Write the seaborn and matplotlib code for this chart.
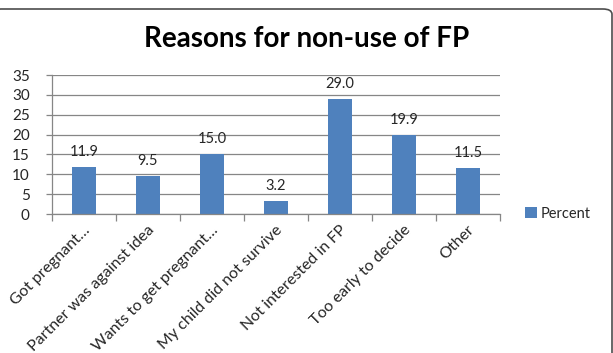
import matplotlib
matplotlib.use("Agg")
import matplotlib.pyplot as plt
import matplotlib.transforms as mtransforms
from matplotlib.patches import FancyBboxPatch, Patch
import seaborn as sns
import pandas as pd

# Reasons for non-use of family planning (percent of respondents)
reasons = [
    "Got pregnant\u2026",
    "Partner was against idea",
    "Wants to get pregnant\u2026",
    "My child did not survive",
    "Not interested in FP",
    "Too early to decide",
    "Other",
]
percent = [11.9, 9.5, 15.0, 3.2, 29.0, 19.9, 11.5]
y_ticks = [0, 5, 10, 15, 20, 25, 30, 35]

BAR = "#4F81BD"
GRID = "#868686"
TEXT = "#262626"

sns.set_theme(style="white")
plt.rcParams["font.family"] = ["Lato", "DejaVu Sans"]

W, H = 613, 353
fig = plt.figure(figsize=(W / 100, H / 100), dpi=100)
fig.patch.set_facecolor("white")

left, right, top, bottom = 52, 500, 75, 214
ax = fig.add_axes([left / W, 1 - bottom / H, (right - left) / W, (bottom - top) / H])

df = pd.DataFrame({"Reason": reasons, "Percent": percent})
sns.barplot(data=df, x="Reason", y="Percent", color=BAR, width=0.39,
            saturation=1, ax=ax, edgecolor="none")

ax.set_ylim(0, 35)
ax.set_xlim(-0.5, len(reasons) - 0.5)
ax.set_yticks(y_ticks)
ax.set_yticklabels([str(t) for t in y_ticks])
ax.yaxis.grid(True, color=GRID, linewidth=0.9)
ax.set_axisbelow(True)
ax.set_xlabel("")
ax.set_ylabel("")

for s in ["top", "right"]:
    ax.spines[s].set_visible(False)
for s in ["left", "bottom"]:
    ax.spines[s].set_color(GRID)
    ax.spines[s].set_linewidth(0.9)

ax.tick_params(axis="y", which="major", length=4, width=0.9, color=GRID,
               labelsize=11, labelcolor=TEXT, pad=12, left=True)

# category boundaries carry the ticks, labels sit at the centres
ax.set_xticks(range(len(reasons)))
ax.set_xticklabels(reasons, rotation=45, ha="right", va="center",
                   rotation_mode="anchor")
ax.set_xticks([i - 0.5 for i in range(len(reasons) + 1)], minor=True)
ax.tick_params(axis="x", which="major", length=0, labelsize=11.5,
               labelcolor=TEXT, pad=10)
ax.tick_params(axis="x", which="minor", length=5, width=0.9, color=GRID,
               bottom=True)
shift = mtransforms.ScaledTranslation(4 / 100, 0, fig.dpi_scale_trans)
for lbl in ax.get_xticklabels():
    lbl.set_transform(lbl.get_transform() + shift)

for i, v in enumerate(percent):
    ax.annotate(f"{v:.1f}", xy=(i, v), xytext=(0, 11), textcoords="offset pixels",
                ha="center", va="baseline", fontsize=10.5, color=TEXT)

fig.text(307 / W, 1 - 47 / H, "Reasons for non-use of FP", ha="center",
         va="baseline", fontsize=20, fontweight="bold", color="black")

fig.legend(handles=[Patch(facecolor=BAR, edgecolor="none", label="Percent")],
           loc="center left", bbox_to_anchor=(525 / W, 1 - 213.5 / H),
           frameon=False, handlelength=0.8, handleheight=0.8,
           handletextpad=0.3, borderpad=0, borderaxespad=0,
           prop={"size": 10.5}, labelcolor=TEXT)

# chart outline (only its top edge and right corner fall inside the image)
frame = FancyBboxPatch((-8 / W, -0.2), (612 + 8) / W, 1.2 - 9 / H,
                       boxstyle="round,pad=0,rounding_size=0.015",
                       transform=fig.transFigure, fill=False,
                       edgecolor="#4d4d4d", linewidth=1.2, clip_on=False)
fig.patches.append(frame)

fig.savefig("out.png", dpi=100, facecolor="white")
